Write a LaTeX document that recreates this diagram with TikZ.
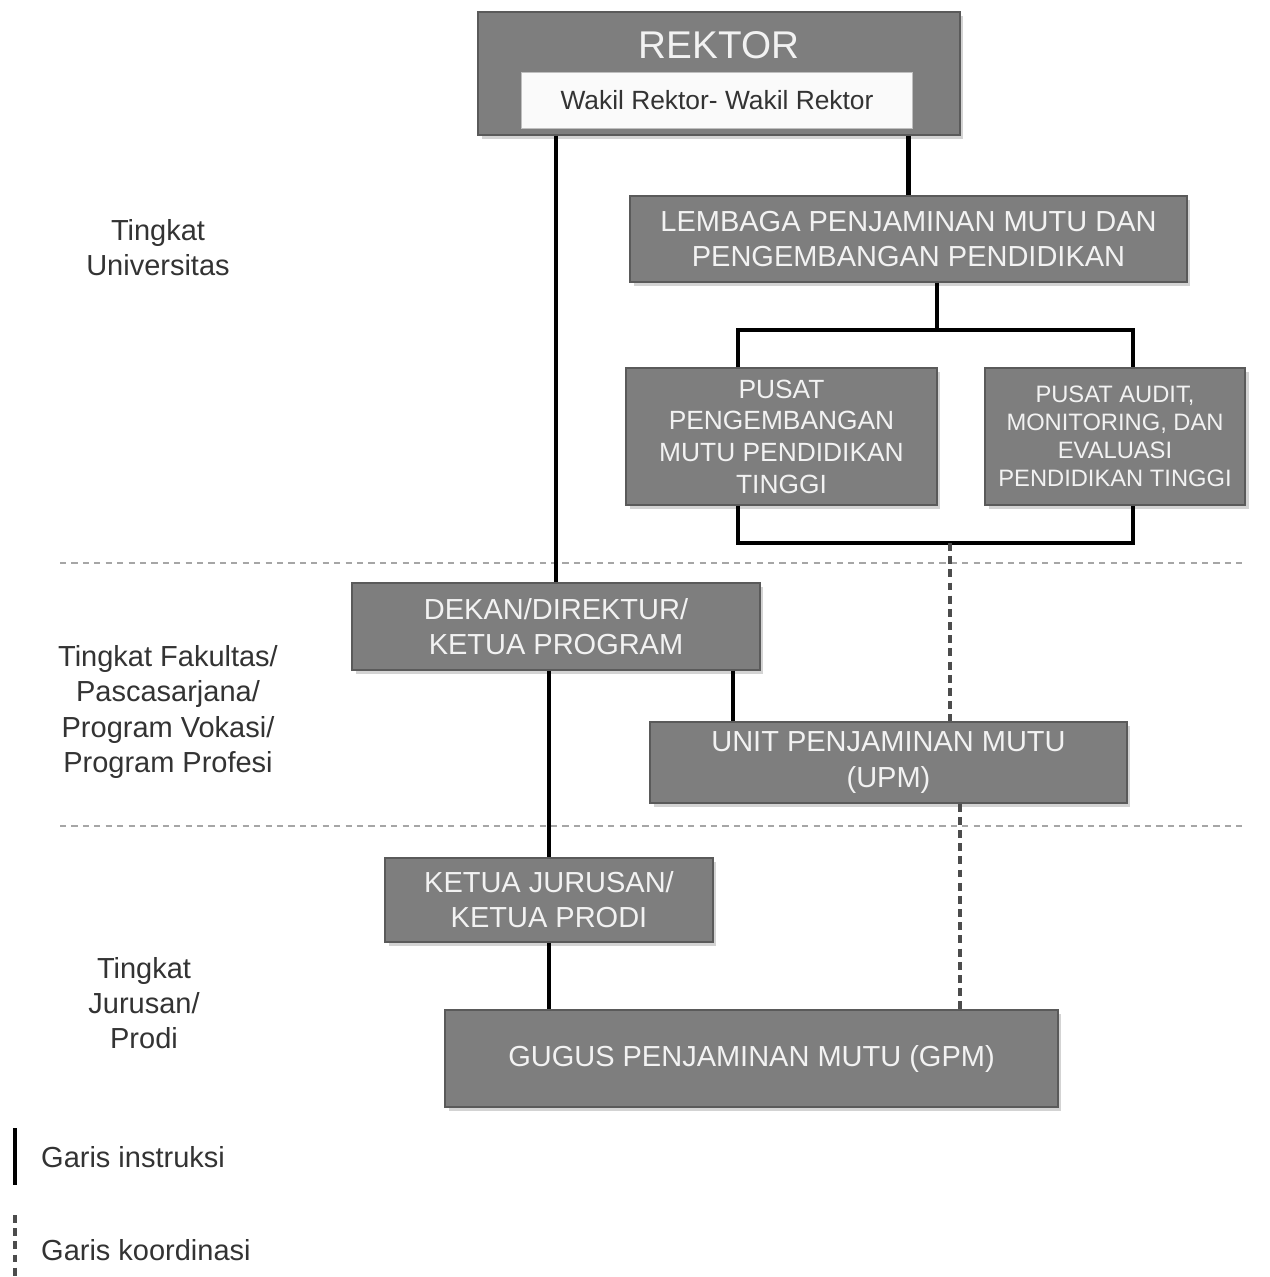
\documentclass[tikz,border=0pt]{standalone}
\usepackage{fontspec}
\setmainfont{Liberation Sans}
\usetikzlibrary{shadows}
\definecolor{boxgray}{HTML}{7E7E7E}
\definecolor{boxedge}{HTML}{5A5A5A}
\definecolor{txtgray}{HTML}{F2F2F2}
\tikzset{bx/.append style={draw=boxedge,fill=boxgray,text=txtgray,align=center,inner sep=0pt,line width=0.8pt,
  drop shadow={shadow xshift=2pt,shadow yshift=-2pt,opacity=0.35},font=\fontsize{16.5}{20}\selectfont}}
\tikzset{wk/.append style={draw=gray!50,fill=white!96!gray,text=black!80,inner sep=0pt,font=\fontsize{15}{20}\selectfont}}
\tikzset{ln/.append style={line width=2.6pt,black}}
\tikzset{dl/.append style={line width=2pt,black!70,dash pattern=on 4.5pt off 3pt}}
\tikzset{sep/.append style={line width=1pt,gray!70,dash pattern=on 3.5pt off 3pt}}
\tikzset{lb/.append style={align=center,text=black!80,font=\fontsize{16.5}{20}\selectfont}}

\begin{document}
\begin{tikzpicture}[x=0.02cm,y=-0.02cm]
                \useasboundingbox (0,0) rectangle (1270,1277);
                % separators
                \draw[sep] (60,563) -- (1245,563);
                \draw[sep] (60,826) -- (1245,826);
                % boxes
                \node[bx,minimum width=9.64cm,minimum height=2.46cm] (rektor) at (719,73.5) {};
                \node[text=txtgray,font=\fontsize{22}{24}\selectfont] (rtext) at (719,45) {REKTOR};
                \node[wk,minimum width=7.82cm,minimum height=1.12cm] (wakil) at (717,100) {Wakil Rektor- Wakil Rektor};
                \node[bx,minimum width=11.14cm,minimum height=1.72cm] (lembaga) at (908.5,239) {LEMBAGA PENJAMINAN MUTU DAN\\PENGEMBANGAN PENDIDIKAN};
                \node[bx,minimum width=6.22cm,minimum height=2.74cm,font=\fontsize{15}{18}\selectfont] (pusatmutu) at (781.5,436.5) {PUSAT\\PENGEMBANGAN\\MUTU PENDIDIKAN\\TINGGI};
                \node[bx,minimum width=5.2cm,minimum height=2.74cm,font=\fontsize{13.5}{16}\selectfont] (pusataudit) at (1115,436.5) {PUSAT AUDIT,\\MONITORING, DAN\\EVALUASI\\PENDIDIKAN TINGGI};
                \node[bx,minimum width=8.16cm,minimum height=1.74cm] (dekan) at (556,626.5) {DEKAN/DIREKTUR/\\KETUA PROGRAM};
                \node[bx,minimum width=9.54cm,minimum height=1.62cm] (upm) at (888.5,762.5) {UNIT PENJAMINAN MUTU\\(UPM)};
                \node[bx,minimum width=6.56cm,minimum height=1.68cm] (ketua) at (549,900) {KETUA JURUSAN/\\KETUA PRODI};
                \node[bx,minimum width=12.26cm,minimum height=1.94cm] (gpm) at (751.5,1058.5) {GUGUS PENJAMINAN MUTU (GPM)};
                % level labels
                \node[lb] (univ) at (158,248) {Tingkat\\Universitas};
                \node[lb] (fak) at (168,712) {Tingkat Fakultas/\\Pascasarjana/\\Program Vokasi/\\Program Profesi};
                \node[lb] (jur) at (144,1003) {Tingkat\\Jurusan/\\Prodi};
                % helper points
                \coordinate (brtop) at (937,330);
                \coordinate (kl) at (738,330);
                \coordinate (kr) at (1133,330);
                \coordinate (bl) at (738,543);
                \coordinate (br) at (1133,543);
                \coordinate (bm) at (950,543);
                \coordinate (du) at (733,0);
                \coordinate (ug) at (960,0);
                % instruction lines
                \draw[ln] (rektor.south -| dekan.north) -- (dekan.north);
                \draw[ln] (rektor.south -| lembaga.north) -- (lembaga.north);
                \draw[ln] (lembaga.south -| brtop) -- (brtop);
                \draw[ln] (kl |- pusatmutu.north) -- (kl) -- (kr) -- (kr |- pusataudit.north);
                \draw[ln] (bl |- pusatmutu.south) -- (bl) -- (br) -- (br |- pusataudit.south);
                \draw[ln] (dekan.south -| du) -- (upm.north -| du);
                \draw[ln] (dekan.south -| ketua.north) -- (ketua.north);
                \draw[ln] (ketua.south) -- (ketua.south |- gpm.north);
                % coordination lines
                \draw[dl] (bm) -- (bm |- upm.north);
                \draw[dl] (upm.south -| ug) -- (gpm.north -| ug);
                % legend
                \coordinate (l1a) at (15,1128);
                \coordinate (l1b) at (15,1185);
                \coordinate (l2a) at (15,1215);
                \coordinate (l2b) at (15,1277);
                \draw[ln] (l1a) -- (l1b);
                \draw[dl] (l2a) -- (l2b);
                \node[lb,anchor=west] (gi) at (35,1157) {Garis instruksi};
                \node[lb,anchor=west] (gk) at (35,1250) {Garis koordinasi};
            \end{tikzpicture}
\end{document}
